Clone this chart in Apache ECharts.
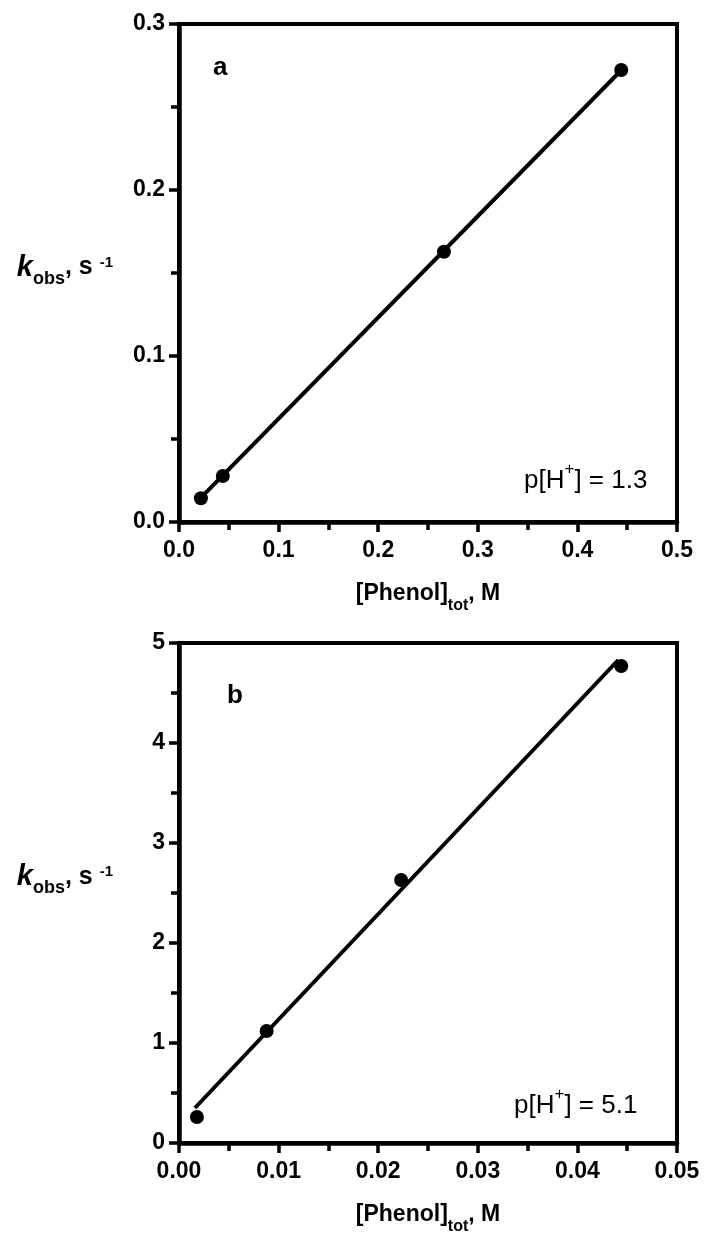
<!DOCTYPE html>
<html>
<head>
<meta charset="utf-8">
<script src="https://cdn.jsdelivr.net/npm/echarts@6/dist/echarts.min.js"></script>
<style>
  html, body { margin: 0; padding: 0; background: #fff; }
  #chart { width: 706px; height: 1234px; }
</style>
</head>
<body>
<div id="chart"></div>
<script>
// Panel a: p[H+] = 1.3
const phenolA = [0.022, 0.044, 0.266, 0.444];
const kobsA = [0.0143, 0.0277, 0.1628, 0.2723];
const fitPhenolA = [0.0218, 0.4438];
const fitKobsA = [0.0145, 0.2720];

// Panel b: p[H+] = 5.1
const phenolB = [0.0018, 0.0088, 0.0223, 0.0444];
const kobsB = [0.26, 1.12, 2.63, 4.77];
const fitPhenolB = [0.0016, 0.0441];
const fitKobsB = [0.35, 4.83];

// Tick labels
const xTicksA = ['0.0', '0.1', '0.2', '0.3', '0.4', '0.5'];
const yTicksA = ['0.0', '0.1', '0.2', '0.3'];
const xTicksB = ['0.00', '0.01', '0.02', '0.03', '0.04', '0.05'];
const yTicksB = ['0', '1', '2', '3', '4', '5'];

const FONT = '"Liberation Sans", Arial, Helvetica, sans-serif';
const pairs = (xs, ys) => xs.map((x, i) => [x, ys[i]]);

const axisLine = { show: true, onZero: false, lineStyle: { color: '#000', width: 4.5 } };
const axisTick = { show: true, inside: false, length: 10, lineStyle: { color: '#000', width: 3.5 } };
const minorTick = { show: true, splitNumber: 2, length: 8, lineStyle: { color: '#000', width: 3.5 } };
const tickLabel = (labels, margin) => ({
  show: true, margin: margin, color: '#000', fontFamily: FONT, fontWeight: 'bold', fontSize: 23,
  formatter: (v, i) => labels[i]
});

const xName = {
  name: '{m|[Phenol]}{s|tot}{m|, M}',
  nameLocation: 'middle',
  nameGap: 54,
  nameTextStyle: {
    fontFamily: FONT,
    rich: {
      m: { fontFamily: FONT, fontSize: 23, fontWeight: 'bold', color: '#000', lineHeight: 36 },
      s: { fontFamily: FONT, fontSize: 16, fontWeight: 'bold', color: '#000', verticalAlign: 'bottom', height: 13 }
    }
  }
};
const yName = (padBottom) => ({
  name: '{k|k}{o|obs}{c|, s }{p|-1}',
  nameLocation: 'middle',
  nameRotate: 0,
  nameGap: 66,
  nameTextStyle: {
    fontFamily: FONT,
    padding: [0, 0, padBottom, 0],
    rich: {
      k: { fontFamily: FONT, fontSize: 29, fontWeight: 'bold', fontStyle: 'italic', color: '#000', lineHeight: 40 },
      o: { fontFamily: FONT, fontSize: 18, fontWeight: 'bold', color: '#000', verticalAlign: 'bottom', height: 17 },
      c: { fontFamily: FONT, fontSize: 25, fontWeight: 'bold', color: '#000', lineHeight: 40 },
      p: { fontFamily: FONT, fontSize: 15, fontWeight: 'bold', color: '#000', verticalAlign: 'top', height: 30 }
    }
  }
});

const panelText = (x, y, str, size, weight) => ({
  type: 'text', x: x, y: y, z: 100,
  style: {
    text: str, fill: '#000', align: 'left', verticalAlign: 'middle',
    font: weight + ' ' + size + 'px ' + FONT
  }
});
const phText = (x, y, value) => ({
  type: 'text', x: x, y: y, z: 100,
  style: {
    text: '{n|p[H}{s|+}{n|] = ' + value + '}',
    align: 'left', verticalAlign: 'middle', fill: '#000',
    font: 'normal 26px ' + FONT,
    rich: {
      n: { fontFamily: FONT, fontSize: 26, fill: '#000', lineHeight: 36 },
      s: { fontFamily: FONT, fontSize: 17, fill: '#000', verticalAlign: 'top', height: 12 }
    }
  }
});

const chart = echarts.init(document.getElementById('chart'), null, { renderer: 'canvas' });
chart.setOption({
  animation: false,
  backgroundColor: '#fff',
  grid: [
    { left: 179, top: 24, width: 498, height: 498, show: true, borderColor: '#000', borderWidth: 4,
      backgroundColor: 'transparent', containLabel: false, outerBoundsMode: 'none' },
    { left: 179, top: 643, width: 498, height: 500, show: true, borderColor: '#000', borderWidth: 4,
      backgroundColor: 'transparent', containLabel: false, outerBoundsMode: 'none' }
  ],
  xAxis: [
    Object.assign({ type: 'value', gridIndex: 0, min: 0, max: 0.5, interval: 0.1,
      axisLine, axisTick, minorTick, splitLine: { show: false }, axisLabel: tickLabel(xTicksA, 17) }, xName),
    Object.assign({ type: 'value', gridIndex: 1, min: 0, max: 0.05, interval: 0.01,
      axisLine, axisTick, minorTick, splitLine: { show: false }, axisLabel: tickLabel(xTicksB, 17) }, xName)
  ],
  yAxis: [
    Object.assign({ type: 'value', gridIndex: 0, min: 0, max: 0.3, interval: 0.1,
      axisLine, axisTick, minorTick, splitLine: { show: false }, axisLabel: tickLabel(yTicksA, 14) }, yName(11)),
    Object.assign({ type: 'value', gridIndex: 1, min: 0, max: 5, interval: 1,
      axisLine, axisTick, minorTick, splitLine: { show: false }, axisLabel: tickLabel(yTicksB, 14) }, yName(32))
  ],
  series: [
    { type: 'line', xAxisIndex: 0, yAxisIndex: 0, data: pairs(fitPhenolA, fitKobsA),
      symbol: 'none', lineStyle: { color: '#000', width: 4 }, z: 2 },
    { type: 'scatter', xAxisIndex: 0, yAxisIndex: 0, data: pairs(phenolA, kobsA),
      symbol: 'circle', symbolSize: 14, itemStyle: { color: '#000', opacity: 1 }, z: 3 },
    { type: 'line', xAxisIndex: 1, yAxisIndex: 1, data: pairs(fitPhenolB, fitKobsB),
      symbol: 'none', lineStyle: { color: '#000', width: 4 }, z: 2 },
    { type: 'scatter', xAxisIndex: 1, yAxisIndex: 1, data: pairs(phenolB, kobsB),
      symbol: 'circle', symbolSize: 14, itemStyle: { color: '#000', opacity: 1 }, z: 3 }
  ],
  graphic: [
    panelText(213, 68, 'a', 26, 'bold'),
    panelText(227, 696, 'b', 26, 'bold'),
    phText(524, 481, '1.3'),
    phText(514, 1106, '5.1')
  ]
});
</script>
</body>
</html>
